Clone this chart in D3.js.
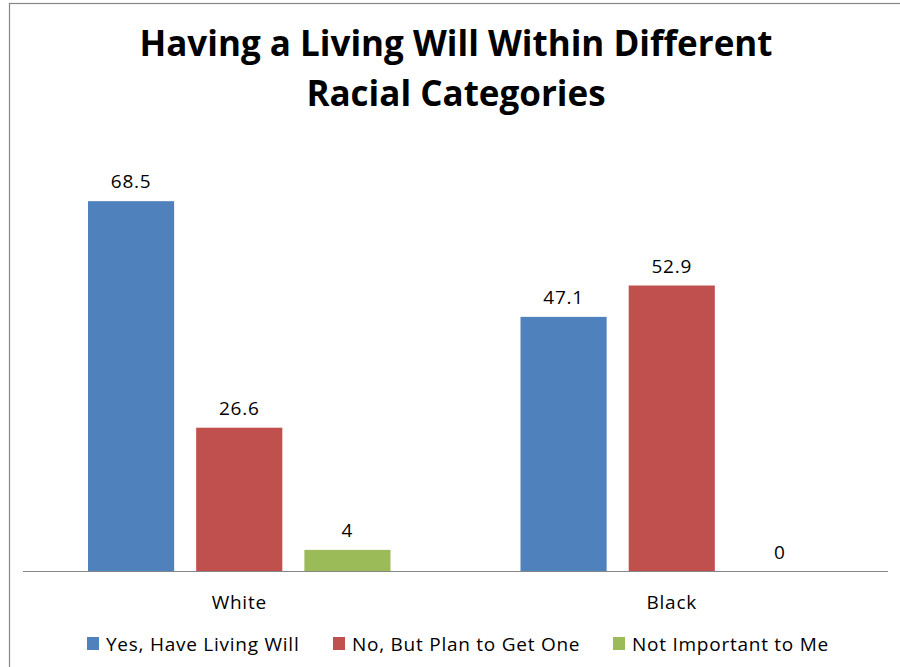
<!DOCTYPE html>
<html>
<head>
<meta charset="utf-8">
<script src="https://cdn.jsdelivr.net/npm/d3@7"></script>
<style>
  body { margin: 0; background: #fff; }
  svg { display: block; }
  text { font-family: "Open Sans", Lato, sans-serif; fill: #000; }
</style>
</head>
<body>
<div class="chart"></div>
<script>
var width = 900
var height = 667

// chart values
var categories = ['White', 'Black']
var seriesNames = ['Yes, Have Living Will', 'No, But Plan to Get One', 'Not Important to Me']
var seriesColors = ['#4f81bd', '#c0504d', '#9bbb59']
var yesValues = [68.5, 47.1]
var noValues = [26.6, 52.9]
var notImportantValues = [4, 0]
var titleLines = ['Having a Living Will Within Different', 'Racial Categories']

function buildRows() {
    var rows = []
    categories.forEach(function (cat, i) {
        rows.push({ cat: cat, series: 0, value: yesValues[i] })
        rows.push({ cat: cat, series: 1, value: noValues[i] })
        rows.push({ cat: cat, series: 2, value: notImportantValues[i] })
    })
    return rows
}

function drawChart() {
    var svg = d3.select('.chart').append('svg')
        .attr('width', width)
        .attr('height', height)

    // outer chart border (runs off the right and bottom of the picture)
    svg.append('rect')
        .attr('x', 9.5)
        .attr('y', 3.5)
        .attr('width', 900)
        .attr('height', 700)
        .attr('fill', 'none')
        .attr('stroke', '#868686')
        .attr('stroke-width', 1.2)

    svg.selectAll('.title')
        .data(titleLines)
        .enter()
        .append('text')
        .attr('class', 'title')
        .attr('x', 456)
        .attr('y', function (d, i) { return 56 + i * 50 })
        .attr('text-anchor', 'middle')
        .attr('font-size', 35)
        .attr('font-weight', 'bold')
        .text(function (d) { return d })

    var x0 = d3.scaleBand().domain(categories).range([23, 888])
    var x1 = d3.scaleBand().domain([0, 1, 2]).range([65, x0.bandwidth() - 65]).paddingInner(22 / 108)
    var y = d3.scaleLinear().domain([0, 80]).range([571.5, 139])

    var rows = buildRows()

    svg.selectAll('.bar')
        .data(rows)
        .enter()
        .append('rect')
        .attr('class', 'bar')
        .attr('x', function (d) { return x0(d.cat) + x1(d.series) })
        .attr('y', function (d) { return y(d.value) })
        .attr('width', x1.bandwidth())
        .attr('height', function (d) { return y(0) - y(d.value) })
        .attr('fill', function (d) { return seriesColors[d.series] })

    svg.selectAll('.val')
        .data(rows)
        .enter()
        .append('text')
        .attr('class', 'val')
        .attr('x', function (d) { return x0(d.cat) + x1(d.series) + x1.bandwidth() / 2 })
        .attr('y', function (d) { return y(d.value) - 13 })
        .attr('text-anchor', 'middle')
        .attr('font-size', 19)
        .attr('letter-spacing', 0.75)
        .text(function (d) { return d.value })

    // baseline
    svg.append('line')
        .attr('x1', 23).attr('x2', 888)
        .attr('y1', y(0)).attr('y2', y(0))
        .attr('stroke', '#868686')
        .attr('stroke-width', 1.2)

    var xAxis = svg.append('g')
        .attr('transform', 'translate(0,' + y(0) + ')')
        .call(d3.axisBottom(x0).tickSize(0).tickPadding(24))
    xAxis.select('.domain').remove()
    xAxis.selectAll('text')
        .attr('font-size', 19)
        .attr('letter-spacing', 0.75)
        .attr('font-family', '"Open Sans", sans-serif')
        .attr('fill', '#000')

    var legendX = [87, 333, 613]
    var legend = svg.selectAll('.legend')
        .data(seriesNames)
        .enter()
        .append('g')
        .attr('class', 'legend')
        .attr('transform', function (d, i) { return 'translate(' + legendX[i] + ',637)' })
    legend.append('rect')
        .attr('width', 12)
        .attr('height', 13)
        .attr('fill', function (d, i) { return seriesColors[i] })
    legend.append('text')
        .attr('x', 19)
        .attr('y', 14)
        .attr('font-size', 19)
        .attr('letter-spacing', 0.75)
        .text(function (d) { return d })
}

drawChart()
</script>
</body>
</html>
